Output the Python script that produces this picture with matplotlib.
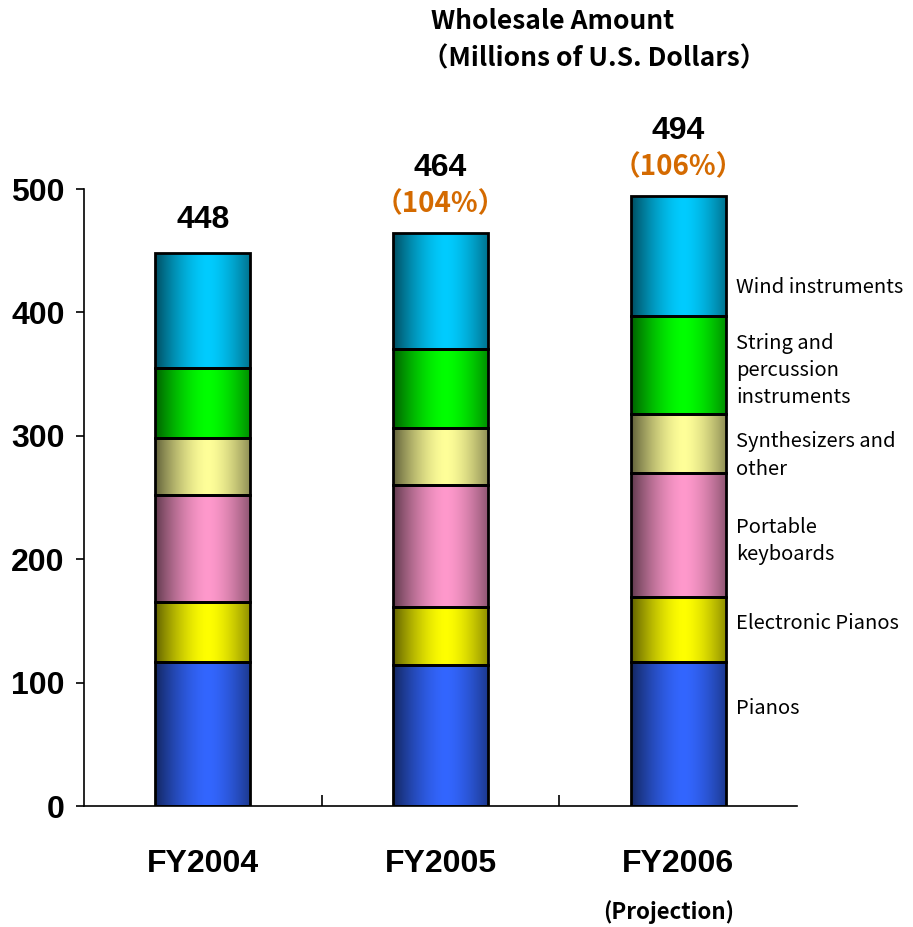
import numpy as np
import matplotlib
matplotlib.use("Agg")
import matplotlib.pyplot as plt
from matplotlib.colors import to_rgb

# wholesale amount by product group, millions of US$
years = ["FY2004", "FY2005", "FY2006"]
segments = ["Pianos", "Electronic Pianos", "Portable\nkeyboards",
            "Synthesizers and\nother", "String and\npercussion\ninstruments",
            "Wind instruments"]
pianos = [117, 114, 117]
electronic = [48, 47, 52]
portable = [87, 99, 101]
synth = [46, 46, 48]
strings = [57, 64, 79]
wind = [93, 94, 97]
series = [pianos, electronic, portable, synth, strings, wind]
colors = ["#3366FF", "#FFFF00", "#FF99CC", "#FFFF99", "#00FF00", "#00CCFF"]
label_y = [79, 148, 215, 284, 353, 420]

gothic = ["Noto Sans CJK JP", "DejaVu Sans"]
arial = ["Liberation Sans", "DejaVu Sans"]

fig = plt.figure(figsize=(9.13, 9.27), dpi=100)
ax = fig.add_axes([0.092, 0.1305, 0.781, 0.6656])

x = np.arange(len(years))
bottom = np.zeros(len(years))


def shade(color, n=200):
    # dark edges, bright band a bit right of centre
    t = np.linspace(0, 1, n)
    f = 0.38 + 0.62 * np.clip(1 - np.abs((t - 0.55) / 0.55) ** 1.6, 0, 1)
    rgb = np.array(to_rgb(color))
    return (f[:, None] * rgb[None, :])[None, :, :]


for vals, col in zip(series, colors):
    bars = ax.bar(x, vals, width=0.40, bottom=bottom, facecolor="none",
                  edgecolor="black", linewidth=2, zorder=3)
    for p in bars:
        x0, y0 = p.get_x(), p.get_y()
        ax.imshow(shade(col), extent=(x0, x0 + p.get_width(), y0, y0 + p.get_height()),
                  aspect="auto", interpolation="bilinear", zorder=2)
    bottom += np.array(vals)

totals = bottom
ax.set_xlim(-0.5, 2.5)
ax.set_ylim(0, 500)

for i, tot in enumerate(totals):
    if i == 0:
        ax.annotate(f"{int(tot)}", (x[i], tot), xytext=(0, 24), textcoords="offset points",
                    ha="center", va="center", fontsize=23, fontweight="bold",
                    family=arial)
    else:
        pct = round(tot / totals[i - 1] * 100)
        ax.annotate(f"{int(tot)}", (x[i], tot), xytext=(0, 47), textcoords="offset points",
                    ha="center", va="center", fontsize=23, fontweight="bold",
                    family=arial)
        ax.annotate(f"（{pct}%）", (x[i], tot), xytext=(0, 21), textcoords="offset points",
                    ha="center", va="center", fontsize=20, fontweight="bold",
                    color="#D46A00", family=gothic)

for name, yy in zip(segments, label_y):
    ax.text(2.243, yy, name, ha="left", va="center", fontsize=14.5,
            family=gothic, linespacing=1.4, clip_on=False)

ax.spines["top"].set_visible(False)
ax.spines["right"].set_visible(False)
ax.spines["left"].set_linewidth(1.2)
ax.spines["bottom"].set_linewidth(1.2)

ax.set_yticks([0, 100, 200, 300, 400, 500])
ax.tick_params(axis="y", direction="out", length=6, width=1.2, pad=8)
for lab in ax.get_yticklabels():
    lab.set_fontsize(23)
    lab.set_fontweight("bold")
    lab.set_family(arial)

ax.set_xticks([0.5, 1.5])
ax.set_xticklabels([])
ax.tick_params(axis="x", direction="in", length=8, width=1.2)
for i, yr in enumerate(years):
    ax.text(x[i], -47, yr, ha="center", va="center", fontsize=23,
            fontweight="bold", family=arial, clip_on=False)
ax.text(x[2] - 0.04, -86, "(Projection)", ha="center", va="center",
        fontsize=16, fontweight="bold", family=gothic, clip_on=False)

fig.text(0.472, 0.977, "Wholesale Amount", ha="left", va="center",
         fontsize=19, fontweight="bold", family=gothic)
fig.text(0.462, 0.937, "（Millions of U.S. Dollars）", ha="left", va="center",
         fontsize=19, fontweight="bold", family=gothic)

fig.savefig("out.png", dpi=100)
